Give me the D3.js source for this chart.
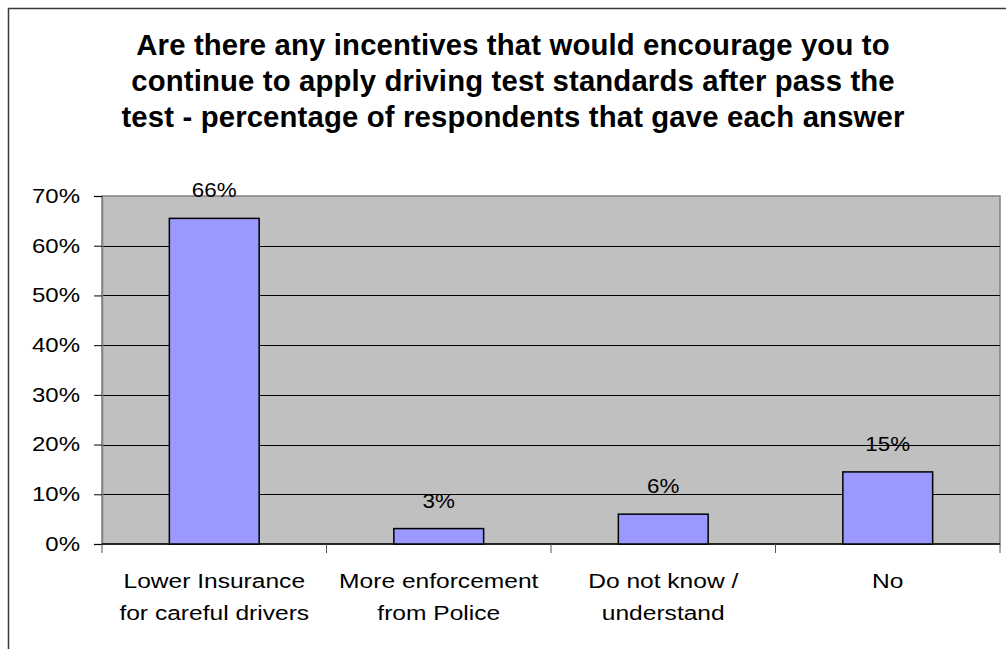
<!DOCTYPE html>
<html>
<head>
<meta charset="utf-8">
<script src="https://cdn.jsdelivr.net/npm/d3@7"></script>
<style>
  html, body { margin: 0; padding: 0; background: #fff; }
  svg { display: block; }
  text { font-family: "Liberation Sans", Arial, sans-serif; fill: #000; }
</style>
</head>
<body>
<svg id="chart" width="1006" height="649"></svg>
<script>
// ---- data ----
const titleLines = [
  "Are there any incentives that would encourage you to",
  "continue to apply driving test standards after pass the",
  "test - percentage of respondents that gave each answer"
];
const categories = [
  ["Lower Insurance", "for careful drivers"],
  ["More enforcement", "from Police"],
  ["Do not know /", "understand"],
  ["No"]
];
const values = [0.655, 0.031, 0.06, 0.145];
const valueLabels = ["66%", "3%", "6%", "15%"];
const yTicks = [0, 0.1, 0.2, 0.3, 0.4, 0.5, 0.6, 0.7];

// ---- layout ----
const plot = { left: 102, right: 1000, top: 196, bottom: 544 };
const svg = d3.select("#chart");

// outer frame
svg.append("rect")
  .attr("x", 8.5).attr("y", 8.5)
  .attr("width", 1010).attr("height", 700)
  .attr("fill", "#fff").attr("stroke", "#3a3a3a").attr("stroke-width", 1.5);

// title
svg.append("g").selectAll("text").data(titleLines).join("text")
  .attr("x", 513)
  .attr("y", (d, i) => 55 + i * 36)
  .attr("text-anchor", "middle")
  .attr("font-size", 29.3)
  .attr("letter-spacing", 0.15)
  .attr("font-weight", "bold")
  .text(d => d);

// scales
const x = d3.scaleBand()
  .domain(d3.range(categories.length))
  .range([plot.left, plot.right])
  .paddingInner(0.6).paddingOuter(0.3);
const y = d3.scaleLinear().domain([0, 0.7]).range([plot.bottom, plot.top]);

// plot area background
svg.append("rect")
  .attr("x", plot.left).attr("y", plot.top)
  .attr("width", plot.right - plot.left).attr("height", plot.bottom - plot.top)
  .attr("fill", "#c0c0c0").attr("stroke", "#808080").attr("stroke-width", 1.5);

// gridlines
svg.append("g").selectAll("line").data(yTicks.filter(t => t > 0 && t < 0.7)).join("line")
  .attr("x1", plot.left).attr("x2", plot.right)
  .attr("y1", d => Math.round(y(d)) + 0.5).attr("y2", d => Math.round(y(d)) + 0.5)
  .attr("stroke", "#000").attr("stroke-width", 1);

// y axis
const sxTick = 1.2;
const yAxis = d3.axisLeft(y).tickValues(yTicks).tickSize(8).tickPadding(12)
  .tickFormat(d3.format(".0%"));
const gy = svg.append("g").attr("transform", `translate(${plot.left},0)`).call(yAxis);
gy.select(".domain").attr("stroke", "#808080").attr("stroke-width", 1.5);
gy.selectAll(".tick line").attr("stroke", "#000");
gy.selectAll(".tick text")
  .attr("font-size", 20).attr("font-family", "Liberation Sans, Arial, sans-serif")
  .attr("fill", "#000")
  .attr("transform", `scale(${sxTick},1)`)
  .attr("x", -22 / sxTick)
  .attr("text-anchor", "end");

// x axis
const catEdges = d3.range(categories.length + 1).map(i => plot.left + i * x.step());
svg.append("line")
  .attr("x1", plot.left).attr("x2", plot.right)
  .attr("y1", plot.bottom).attr("y2", plot.bottom)
  .attr("stroke", "#000").attr("stroke-width", 1.5);
svg.append("g").selectAll("line").data(catEdges).join("line")
  .attr("x1", d => d).attr("x2", d => d)
  .attr("y1", plot.bottom).attr("y2", plot.bottom + 9)
  .attr("stroke", "#555").attr("stroke-width", 1);

// bars
svg.append("g").selectAll("rect").data(values).join("rect")
  .attr("x", (d, i) => x(i))
  .attr("y", d => y(d))
  .attr("width", x.bandwidth())
  .attr("height", d => plot.bottom - y(d))
  .attr("fill", "#9999ff").attr("stroke", "#000").attr("stroke-width", 1.5);

// value labels
svg.append("g").selectAll("text").data(values).join("text")
  .attr("transform", (d, i) => `translate(${x(i) + x.bandwidth() / 2},${y(d) - 21}) scale(1.12,1)`)
  .attr("text-anchor", "middle")
  .attr("font-size", 20)
  .text((d, i) => valueLabels[i]);

// category labels
const cg = svg.append("g").selectAll("g").data(categories).join("g")
  .attr("transform", (d, i) => `translate(${x(i) + x.bandwidth() / 2},0)`);
cg.selectAll("text").data(d => d).join("text")
  .attr("transform", (d, j) => `translate(0,${588 + j * 32}) scale(1.17,1)`)
  .attr("text-anchor", "middle")
  .attr("font-size", 21)
  .text(d => d);
</script>
</body>
</html>
